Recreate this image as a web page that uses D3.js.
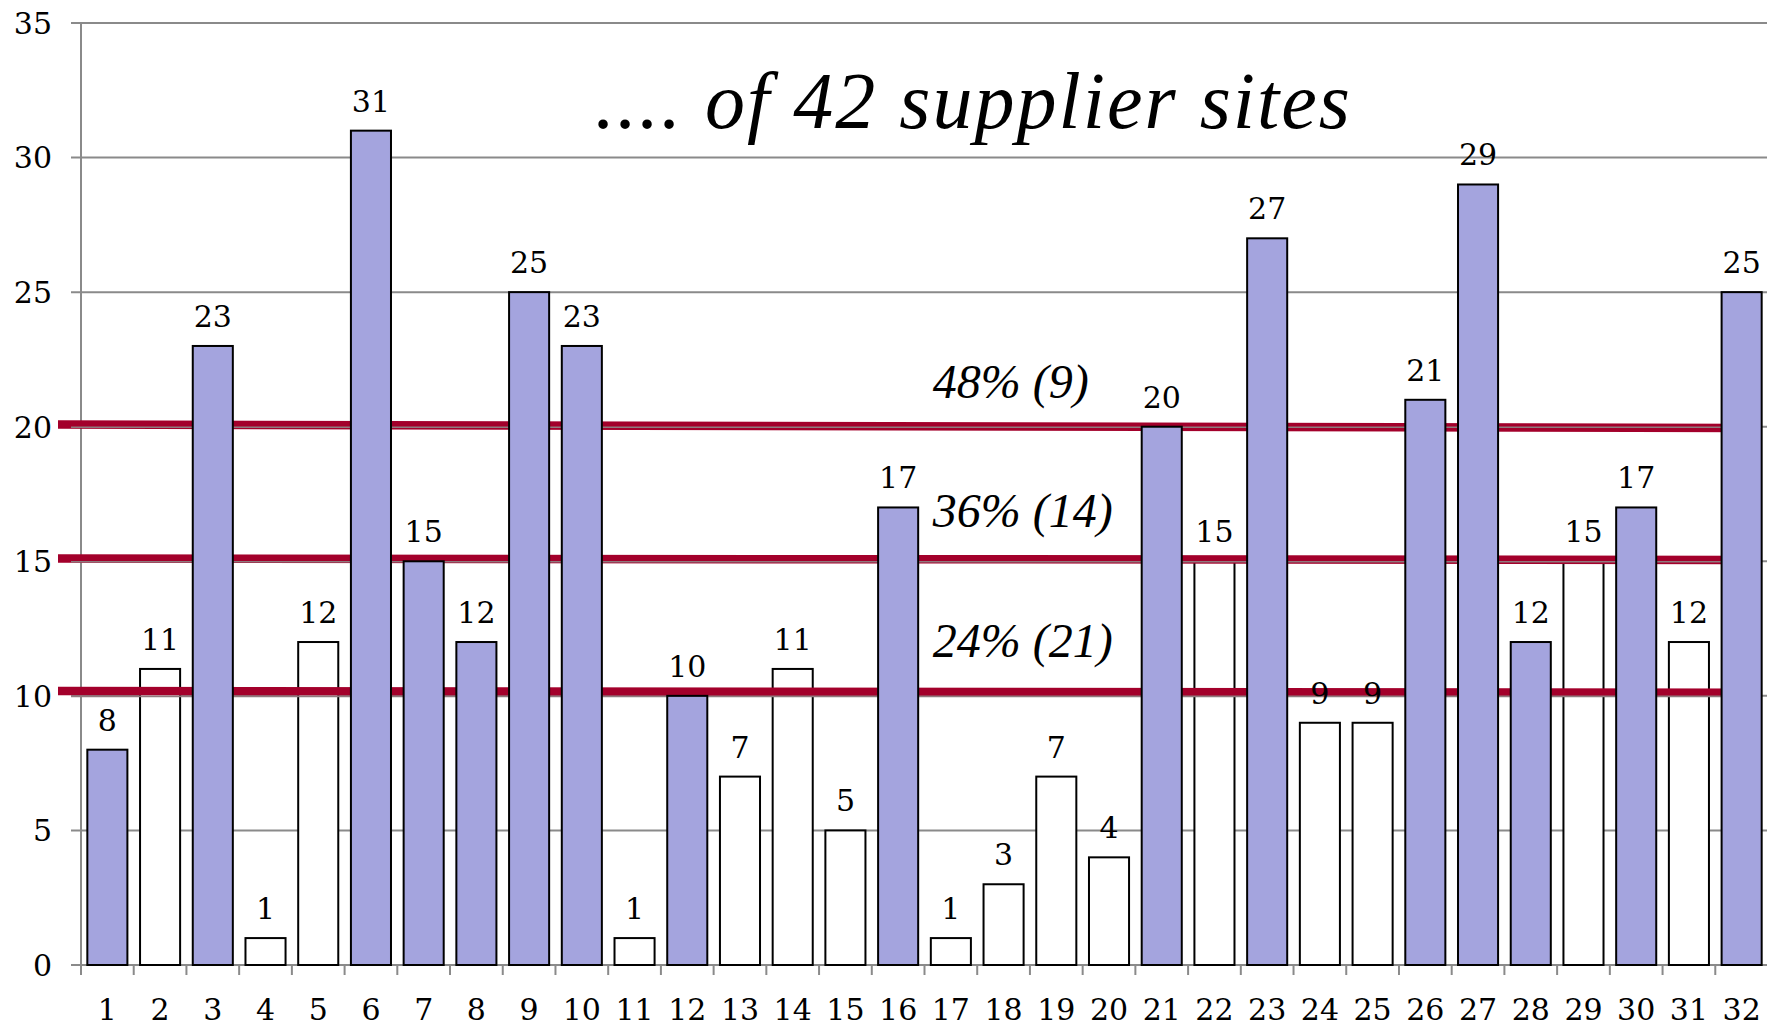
<!DOCTYPE html>
<html>
<head>
<meta charset="utf-8">
<script src="https://cdn.jsdelivr.net/npm/d3@7"></script>
<style>
  html, body { margin: 0; padding: 0; background: #fff; overflow: hidden; }
  svg { display: block; }
</style>
</head>
<body>
<div id="chart"></div>
<script>
// supplier site numbers along the x axis
const sites = d3.range(1, 33).map(String)
// value per site
const values = [8, 11, 23, 1, 12, 31, 15, 12, 25, 23, 1, 10, 7, 11, 5, 17,
  1, 3, 7, 4, 20, 15, 27, 9, 9, 21, 29, 12, 15, 17, 12, 25]
// which sites are shaded
const shaded = [1, 0, 1, 0, 0, 1, 1, 1, 1, 1, 0, 1, 0, 0, 0, 1,
  0, 0, 0, 0, 1, 0, 1, 0, 0, 1, 1, 1, 0, 1, 0, 1]
const yTicks = [0, 5, 10, 15, 20, 25, 30, 35]

// threshold lines (hand drawn, slightly slanted)
const lineLabels = ['48% (9)', '36% (14)', '24% (21)']
const lineStart = [20.08, 15.1, 10.18]
const lineEnd = [19.95, 15.05, 10.12]
const lineGrid = [20, 15, 10]

const title = '.... of 42 supplier sites'

const width = 1767
const height = 1027
const plotLeft = 81
const plotTop = 23
const plotBottom = 965

const svg = d3.select('#chart').append('svg')
  .attr('width', width)
  .attr('height', height)

const x = d3.scaleBand()
  .domain(sites)
  .range([plotLeft, 1768])
  .paddingInner(0.24)
  .paddingOuter(0.12)

const y = d3.scaleLinear().domain([0, 35]).range([plotBottom, plotTop])

const grey = '#8a8a8a'
const numFont = 'DejaVu Serif'
const itFont = 'Liberation Serif'

// gridlines + y labels
svg.append('g').selectAll('line')
  .data(yTicks)
  .enter().append('line')
  .attr('x1', plotLeft - 10)
  .attr('x2', width)
  .attr('y1', d => y(d))
  .attr('y2', d => y(d))
  .attr('stroke', grey)
  .attr('stroke-width', 2)

svg.append('g').selectAll('text')
  .data(yTicks)
  .enter().append('text')
  .attr('x', 52)
  .attr('y', d => y(d))
  .attr('dy', '0.36em')
  .attr('text-anchor', 'end')
  .style('font-family', numFont)
  .style('font-size', '30px')
  .text(d => d)

// y axis line
svg.append('line')
  .attr('x1', plotLeft).attr('x2', plotLeft)
  .attr('y1', plotTop).attr('y2', plotBottom + 10)
  .attr('stroke', grey).attr('stroke-width', 2)

// x ticks at band boundaries
const step = x.step()
svg.append('g').selectAll('line')
  .data(sites.slice(1))
  .enter().append('line')
  .attr('x1', d => x(d) - step * 0.12)
  .attr('x2', d => x(d) - step * 0.12)
  .attr('y1', plotBottom)
  .attr('y2', plotBottom + 10)
  .attr('stroke', grey)
  .attr('stroke-width', 2)

svg.append('g').selectAll('text')
  .data(sites)
  .enter().append('text')
  .attr('x', d => x(d) + x.bandwidth() / 2)
  .attr('y', 1020)
  .attr('text-anchor', 'middle')
  .style('font-family', numFont)
  .style('font-size', '30px')
  .text(d => d)

const data = sites.map((s, i) => ({ site: s, value: values[i], shaded: shaded[i] }))

function drawBars(rows) {
  return svg.append('g').selectAll('rect')
    .data(rows)
    .enter().append('rect')
    .attr('x', d => x(d.site))
    .attr('width', x.bandwidth())
    .attr('y', d => y(d.value))
    .attr('height', d => y(0) - y(d.value))
    .attr('fill', d => d.shaded ? '#a4a4de' : '#fff')
    .attr('stroke', '#000')
    .attr('stroke-width', 2)
}

// white bars sit under the red lines, shaded ones over them
drawBars(data.filter(d => !d.shaded))

const redG = svg.append('g')
const xEnd = x('32') + x.bandwidth() / 2
lineLabels.forEach((label, i) => {
  redG.append('line')
    .attr('x1', 58).attr('x2', xEnd)
    .attr('y1', y(lineStart[i])).attr('y2', y(lineEnd[i]))
    .attr('stroke', '#a3002b')
    .attr('stroke-width', 8.5)
  redG.append('line')
    .attr('x1', plotLeft - 10).attr('x2', xEnd)
    .attr('y1', y(lineGrid[i]) + 0.5).attr('y2', y(lineGrid[i]) + 0.5)
    .attr('stroke', '#8f7a7e')
    .attr('stroke-width', 1.6)
  redG.append('text')
    .attr('x', x('17') + 2)
    .attr('y', y(lineStart[i]) - [27, 32, 34][i])
    .style('font-family', itFont)
    .style('font-style', 'italic')
    .style('font-size', '48px')
    .text(label)
})

drawBars(data.filter(d => d.shaded))

// value labels
svg.append('g').selectAll('text')
  .data(data)
  .enter().append('text')
  .attr('x', d => x(d.site) + x.bandwidth() / 2)
  .attr('y', d => y(d.value) - 19)
  .attr('text-anchor', 'middle')
  .style('font-family', numFont)
  .style('font-size', '30px')
  .text(d => d.value)

svg.append('text')
  .attr('x', 595)
  .attr('y', 128)
  .attr('textLength', 755)
  .attr('lengthAdjust', 'spacing')
  .style('font-family', itFont)
  .style('font-style', 'italic')
  .style('font-size', '80px')
  .text(title)
</script>
</body>
</html>
